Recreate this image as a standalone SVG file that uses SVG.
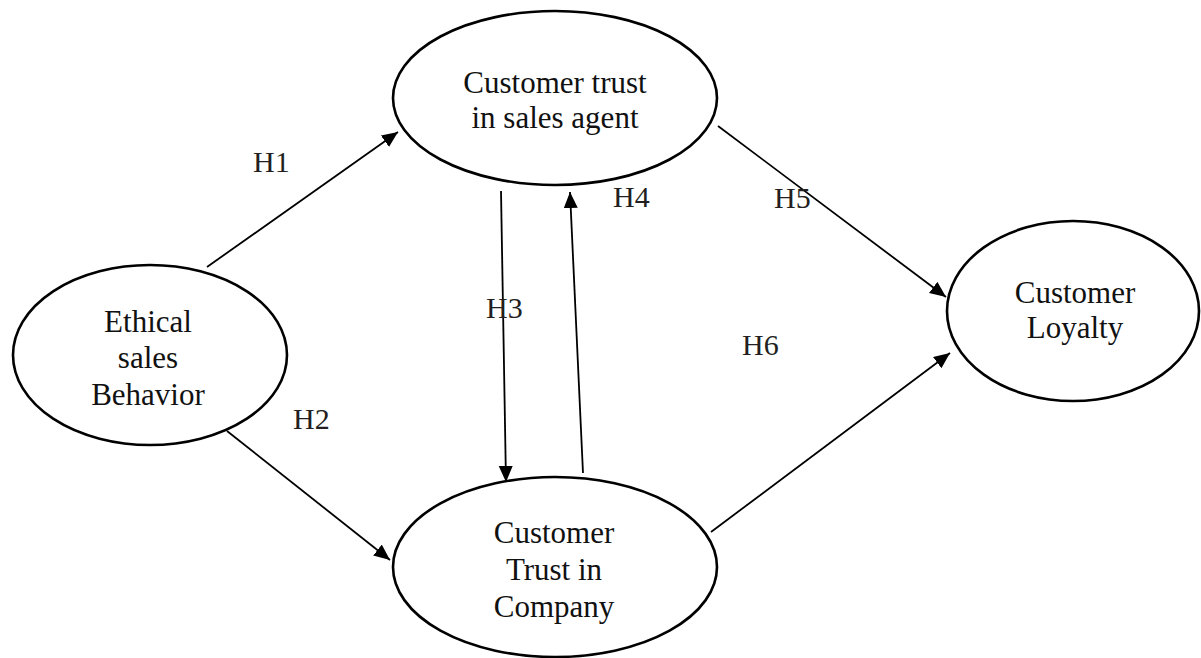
<svg xmlns="http://www.w3.org/2000/svg" width="1201" height="658" viewBox="0 0 1201 658">
<style>
  .node ellipse { fill: #fff; stroke: #000; stroke-width: 2.6; }
  .node text { font-family: "Liberation Serif", "Times New Roman", serif; font-size: 31px; fill: #111; text-anchor: middle; }
  .conn line { stroke: #000; stroke-width: 1.8; fill: none; marker-end: url(#arrow); }
  .lbl { font-family: "Liberation Serif", "Times New Roman", serif; font-size: 30px; fill: #231f20; }
</style>
<defs>
  <marker id="arrow" markerUnits="userSpaceOnUse" markerWidth="17" markerHeight="15" refX="16" refY="7" orient="auto">
    <path d="M0,0 L16,7 L0,14 z" fill="#000"/>
  </marker>
</defs>
<rect width="1201" height="658" fill="#fff"/>
<g id="connectors" class="conn">
  <line x1="207" y1="267" x2="398" y2="132"/>
  <line x1="227" y1="431" x2="390" y2="560"/>
  <line x1="501" y1="191" x2="506" y2="482"/>
  <line x1="583" y1="473" x2="570" y2="192"/>
  <line x1="718" y1="126" x2="946" y2="297"/>
  <line x1="711" y1="532" x2="950" y2="353"/>
</g>
<g id="node-trust-agent" class="node">
  <ellipse cx="555" cy="98" rx="162" ry="87"/>
  <text x="555" y="93">Customer trust</text>
  <text x="555" y="128">in sales agent</text>
</g>
<g id="node-ethical" class="node">
  <ellipse cx="150" cy="355" rx="137" ry="90"/>
  <text x="148" y="332">Ethical</text>
  <text x="148" y="368">sales</text>
  <text x="148" y="405">Behavior</text>
</g>
<g id="node-trust-company" class="node">
  <ellipse cx="555" cy="567" rx="162" ry="90"/>
  <text x="554" y="543">Customer</text>
  <text x="554" y="580">Trust in</text>
  <text x="554" y="617">Company</text>
</g>
<g id="node-loyalty" class="node">
  <ellipse cx="1073" cy="311" rx="126" ry="90"/>
  <text x="1075" y="303">Customer</text>
  <text x="1075" y="338">Loyalty</text>
</g>
<g id="labels">
  <text class="lbl" x="253" y="172">H1</text>
  <text class="lbl" x="293" y="429">H2</text>
  <text class="lbl" x="486" y="318">H3</text>
  <text class="lbl" x="613" y="207">H4</text>
  <text class="lbl" x="774" y="208">H5</text>
  <text class="lbl" x="742" y="355">H6</text>
</g>
</svg>
